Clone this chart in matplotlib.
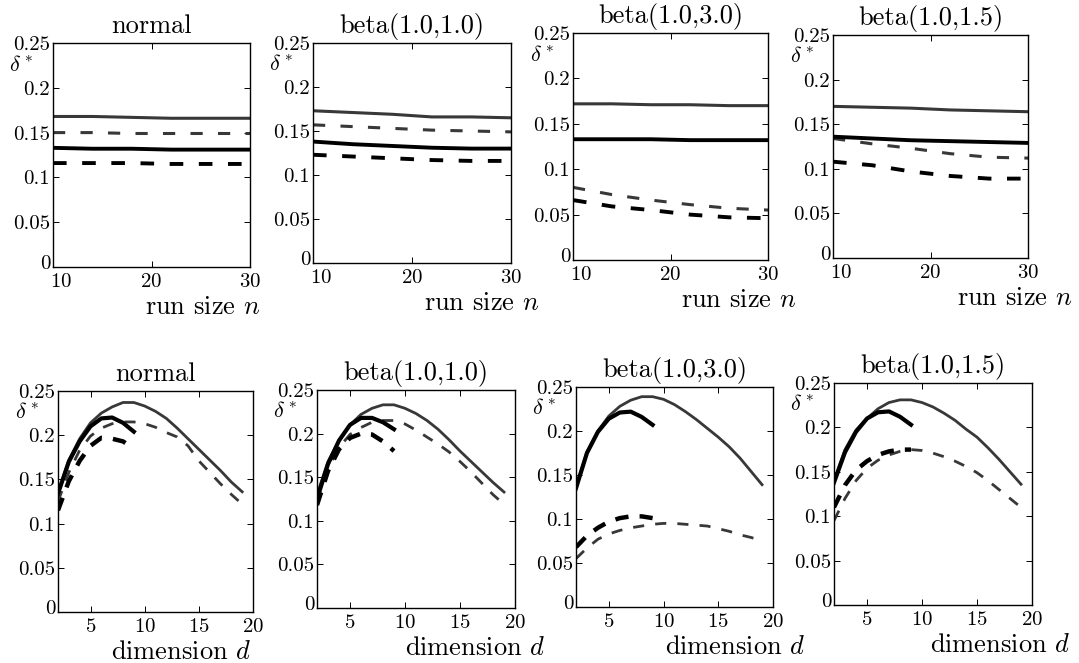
import numpy as np
import matplotlib
matplotlib.use('Agg')
import matplotlib.pyplot as plt
from matplotlib.transforms import ScaledTranslation

plt.rcParams['font.family'] = 'cmr10'
plt.rcParams['mathtext.fontset'] = 'cm'
plt.rcParams['axes.formatter.use_mathtext'] = True

W, H = 1079, 663

titles = ['normal', 'beta(1.0,1.0)', 'beta(1.0,3.0)', 'beta(1.0,1.5)']
ytick_vals = [0, 0.05, 0.1, 0.15, 0.2, 0.25]
ytick_labels = ['0', '0.05', '0.1', '0.15', '0.2', '0.25']

# top row: delta* against run size n
n_vals = [10, 14, 18, 22, 26, 30]

n_normal_solid_a = [0.168, 0.168, 0.167, 0.166, 0.166, 0.166]
n_normal_dash_a = [0.150, 0.150, 0.149, 0.149, 0.149, 0.149]
n_normal_solid_b = [0.133, 0.132, 0.132, 0.131, 0.131, 0.131]
n_normal_dash_b = [0.116, 0.116, 0.116, 0.115, 0.115, 0.115]

n_b11_solid_a = [0.173, 0.171, 0.169, 0.166, 0.166, 0.165]
n_b11_dash_a = [0.157, 0.155, 0.153, 0.151, 0.150, 0.149]
n_b11_solid_b = [0.138, 0.135, 0.133, 0.131, 0.130, 0.130]
n_b11_dash_b = [0.123, 0.121, 0.119, 0.117, 0.116, 0.116]

n_b13_solid_a = [0.172, 0.172, 0.171, 0.171, 0.170, 0.170]
n_b13_dash_a = [0.080, 0.072, 0.066, 0.061, 0.057, 0.055]
n_b13_solid_b = [0.133, 0.133, 0.133, 0.132, 0.132, 0.132]
n_b13_dash_b = [0.066, 0.059, 0.055, 0.050, 0.047, 0.046]

n_b115_solid_a = [0.170, 0.169, 0.168, 0.166, 0.165, 0.164]
n_b115_dash_a = [0.134, 0.128, 0.123, 0.117, 0.113, 0.112]
n_b115_solid_b = [0.136, 0.134, 0.132, 0.131, 0.130, 0.129]
n_b115_dash_b = [0.108, 0.104, 0.097, 0.092, 0.089, 0.089]

# bottom row: delta* against dimension d
d_long = list(range(2, 20))
d_short = list(range(2, 10))

d_normal_solid_a = [0.135, 0.172, 0.196, 0.214, 0.225, 0.232, 0.237, 0.237, 0.233,
                    0.227, 0.219, 0.208, 0.196, 0.184, 0.172, 0.160, 0.147, 0.136]
d_normal_dash_a = [0.125, 0.158, 0.183, 0.199, 0.208, 0.213, 0.215, 0.215, 0.213,
                   0.209, 0.203, 0.198, 0.188, 0.171, 0.158, 0.145, 0.133, 0.122]
d_normal_solid_b = [0.134, 0.170, 0.193, 0.210, 0.219, 0.220, 0.214, 0.204]
d_normal_dash_b = [0.115, 0.148, 0.171, 0.188, 0.197, 0.196, 0.193, 0.185]

d_b11_solid_a = [0.130, 0.168, 0.192, 0.210, 0.222, 0.229, 0.233, 0.233, 0.229,
                 0.223, 0.215, 0.205, 0.193, 0.180, 0.168, 0.156, 0.144, 0.133]
d_b11_dash_a = [0.122, 0.160, 0.184, 0.199, 0.207, 0.213, 0.215, 0.215, 0.211,
                0.204, 0.196, 0.188, 0.179, 0.168, 0.156, 0.143, 0.130, 0.119]
d_b11_solid_b = [0.125, 0.165, 0.192, 0.210, 0.218, 0.218, 0.213, 0.205]
d_b11_dash_b = [0.118, 0.157, 0.182, 0.195, 0.200, 0.199, 0.191, 0.180]

d_b13_solid_a = [0.137, 0.176, 0.200, 0.217, 0.228, 0.235, 0.239, 0.239, 0.236,
                 0.230, 0.222, 0.213, 0.203, 0.193, 0.182, 0.169, 0.154, 0.139]
d_b13_dash_a = [0.055, 0.067, 0.077, 0.083, 0.087, 0.090, 0.092, 0.094, 0.095,
                0.095, 0.094, 0.093, 0.092, 0.089, 0.086, 0.082, 0.079, 0.075]
d_b13_solid_b = [0.135, 0.175, 0.199, 0.214, 0.221, 0.222, 0.216, 0.207]
d_b13_dash_b = [0.068, 0.081, 0.090, 0.097, 0.101, 0.103, 0.103, 0.101]

d_b115_solid_a = [0.140, 0.175, 0.197, 0.210, 0.221, 0.228, 0.231, 0.231, 0.228,
                  0.223, 0.216, 0.208, 0.198, 0.189, 0.177, 0.164, 0.150, 0.136]
d_b115_dash_a = [0.095, 0.120, 0.140, 0.154, 0.163, 0.169, 0.173, 0.175, 0.174,
                 0.171, 0.167, 0.162, 0.156, 0.149, 0.140, 0.130, 0.120, 0.110]
d_b115_solid_b = [0.138, 0.172, 0.195, 0.210, 0.217, 0.218, 0.212, 0.203]
d_b115_dash_b = [0.110, 0.135, 0.152, 0.162, 0.169, 0.173, 0.175, 0.175]

top_series = [
    (n_normal_solid_a, n_normal_dash_a, n_normal_solid_b, n_normal_dash_b),
    (n_b11_solid_a, n_b11_dash_a, n_b11_solid_b, n_b11_dash_b),
    (n_b13_solid_a, n_b13_dash_a, n_b13_solid_b, n_b13_dash_b),
    (n_b115_solid_a, n_b115_dash_a, n_b115_solid_b, n_b115_dash_b),
]
bottom_series = [
    (d_normal_solid_a, d_normal_dash_a, d_normal_solid_b, d_normal_dash_b),
    (d_b11_solid_a, d_b11_dash_a, d_b11_solid_b, d_b11_dash_b),
    (d_b13_solid_a, d_b13_dash_a, d_b13_solid_b, d_b13_dash_b),
    (d_b115_solid_a, d_b115_dash_a, d_b115_solid_b, d_b115_dash_b),
]

# axes boxes in pixels (left, top, right, bottom) - scanned figure is a bit uneven
boxes_top = [(53, 43, 250, 267), (313, 43, 511, 263), (573, 33, 768, 260), (833, 35, 1028, 258)]
boxes_bot = [(58, 391, 253, 612), (317, 390, 515, 608), (576, 387, 773, 607), (834, 383, 1032, 605)]
xlab_top = [0.76, 0.85, 0.85, 0.93]
xlab_bot = [0.63, 0.80, 0.81, 0.84]

GREY = '#383838'


def nudge(label, dx_px, dy_px, fig):
    label.set_transform(label.get_transform() +
                        ScaledTranslation(dx_px / 100, dy_px / 100, fig.dpi_scale_trans))


def make_axes(fig, box):
    l, t, r, b = box
    ax = fig.add_axes([l / W, 1 - b / H, (r - l) / W, (b - t) / H])
    ax.set_ylim(0, 0.25)
    ax.set_yticks(ytick_vals)
    ax.set_yticklabels(ytick_labels)
    ax.tick_params(direction='in', top=True, right=True, length=4, width=0.7,
                   labelsize=15)
    ax.tick_params(axis='y', pad=2)
    ax.tick_params(axis='x', pad=4)
    for s in ax.spines.values():
        s.set_linewidth(1.0)
    ax.text(-0.1, 0.9, r'$\delta^*$', transform=ax.transAxes, ha='right',
            va='center', fontsize=16)
    # the "0" sits a little above the corner, like in the scan
    nudge(ax.get_yticklabels()[0], 0, 5, fig)
    return ax


fig = plt.figure(figsize=(W / 100, H / 100), dpi=100)

for i in range(4):
    ax = make_axes(fig, boxes_top[i])
    sa, da, sb, db = top_series[i]
    ax.plot(n_vals, sa, color=GREY, lw=2.2)
    ax.plot(n_vals, da, color=GREY, lw=2.2, dashes=(4, 5))
    ax.plot(n_vals, sb, color='k', lw=2.8)
    ax.plot(n_vals, db, color='k', lw=2.8, dashes=(3.5, 4))
    ax.set_xlim(10, 30)
    ax.set_xticks([10, 20, 30])
    nudge(ax.get_xticklabels()[0], 8, 0, fig)
    ax.set_title(titles[i], fontsize=19, pad=7)
    ax.annotate('run size $n$', xy=(xlab_top[i], 0), xycoords='axes fraction',
                xytext=(0, -34), textcoords='offset points', ha='center',
                va='baseline', fontsize=19)

for i in range(4):
    ax = make_axes(fig, boxes_bot[i])
    sa, da, sb, db = bottom_series[i]
    ax.plot(d_long, sa, color=GREY, lw=2.0)
    ax.plot(d_long, da, color=GREY, lw=2.0, dashes=(4, 4))
    ax.plot(d_short, sb, color='k', lw=3.0)
    ax.plot(d_short, db, color='k', lw=3.2, dashes=(3, 2.5))
    ax.set_xlim(2, 20)
    ax.set_xticks([5, 10, 15, 20])
    ax.set_title(titles[i], fontsize=19, pad=7)
    ax.annotate('dimension $d$', xy=(xlab_bot[i], 0), xycoords='axes fraction',
                xytext=(0, -34), textcoords='offset points', ha='center',
                va='baseline', fontsize=19)

plt.savefig('out.png', dpi=100)
plt.close()
